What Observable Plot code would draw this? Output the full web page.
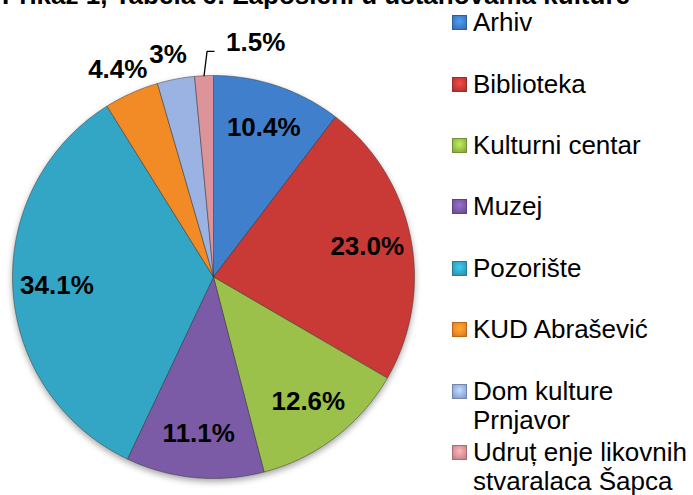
<!DOCTYPE html>
<html><head><meta charset="utf-8">
<script src="https://cdn.jsdelivr.net/npm/d3@7"></script>
<script src="https://cdn.jsdelivr.net/npm/@observablehq/plot@0.6"></script>
<style>
body{margin:0;background:#fff;overflow:hidden;font-family:Arial,"Liberation Sans",sans-serif}
#wrap{position:relative;width:693px;height:495px;overflow:hidden;background:#fff}
#title{position:absolute;top:-18px;right:63px;font:bold 26px Arial,"Liberation Sans",sans-serif;line-height:26px;white-space:nowrap;color:#000}
.item{position:absolute;left:452px;display:flex;align-items:flex-start;font:26px Arial,"Liberation Sans",sans-serif;line-height:29px;color:#000;white-space:nowrap}
.sw{width:15px;height:15px;margin-top:7px;margin-right:6px;flex:none;box-sizing:border-box}
#chart svg .slices{filter:drop-shadow(0px 3px 3px rgba(0,0,0,0.35))}
</style></head><body><div id="wrap"><div id="chart"></div></div>
<script>
const title = "Prikaz 1, Tabela 6: Zaposleni u ustanovama kulture";
const categories = ["Arhiv","Biblioteka","Kulturni centar","Muzej","Pozorište","KUD Abrašević","Dom kulture Prnjavor","Udruț enje likovnih stvaralaca Šapca"];
const legendLines = [["Arhiv"],["Biblioteka"],["Kulturni centar"],["Muzej"],["Pozorište"],["KUD Abrašević"],["Dom kulture","Prnjavor"],["Udruț enje likovnih","stvaralaca Šapca"]];
const values = [10.4, 23.0, 12.6, 11.1, 34.1, 4.4, 3, 1.5];
const labels = ["10.4%","23.0%","12.6%","11.1%","34.1%","4.4%","3%","1.5%"];
const colors = ["#3f7fcc","#c93a36","#9cc14a","#7b5aa6","#33a6c5","#f28a26","#9ab3e2","#dd939a"];

const arcs = d3.pie().sort(null).value(d => d)(values);
const verts = [];
arcs.forEach((a, i) => {
  const name = categories[i];
  verts.push({name, x: 0, y: 0});
  const n = Math.max(2, Math.ceil((a.endAngle - a.startAngle) / 0.01));
  for (let k = 0; k <= n; k++) {
    const t = a.startAngle + (a.endAngle - a.startAngle) * k / n;
    verts.push({name, x: Math.sin(t), y: Math.cos(t)});
  }
  verts.push({name, x: 0, y: 0});
});

const inside = [], outside = [], leader = [], leaderLabel = [];
arcs.forEach((a, i) => {
  const m = (a.startAngle + a.endAngle) / 2;
  if (values[i] >= 10) inside.push({x: 0.78 * Math.sin(m), y: 0.78 * Math.cos(m), text: labels[i]});
  else if (values[i] >= 2.5) outside.push({x: 1.13 * Math.sin(m), y: 1.13 * Math.cos(m), text: labels[i]});
  else {
    const x0 = Math.sin(m), y0 = Math.cos(m);
    leader.push({x: x0, y: y0}, {x: x0 + 0.015, y: 1.12}, {x: x0 + 0.05, y: 1.12});
    leaderLabel.push({x: x0 + 0.05, y: 1.12, text: labels[i]});
  }
});

const font = "Arial, 'Liberation Sans', sans-serif";
const chart = Plot.plot({
  width: 693, height: 495,
  marginLeft: 12, marginRight: 279, marginTop: 75, marginBottom: 17,
  x: {domain: [-1, 1], axis: null},
  y: {domain: [-1, 1], axis: null},
  color: {domain: categories, range: colors},
  style: {background: "transparent", overflow: "visible"},
  marks: [
    Plot.line(verts, {x: "x", y: "y", z: "name", fill: "name", stroke: "#333", strokeOpacity: 0.6, strokeWidth: 0.8, className: "slices"}),
    Plot.text(inside, {x: "x", y: "y", text: "text", fontSize: 26, fontWeight: "bold", fill: "#000", fontFamily: font}),
    Plot.text(outside, {x: "x", y: "y", text: "text", dx: -3, dy: 1, fontSize: 26, fontWeight: "bold", fill: "#000", fontFamily: font}),
    Plot.line(leader, {x: "x", y: "y", stroke: "#000", strokeWidth: 1.3}),
    Plot.text(leaderLabel, {x: "x", y: "y", text: "text", textAnchor: "start", dx: 12, dy: -9, fontSize: 26, fontWeight: "bold", fill: "#000", fontFamily: font})
  ]
});
document.getElementById("chart").appendChild(chart);

const wrap = document.getElementById("wrap");
const t = document.createElement("div");
t.id = "title"; t.textContent = title;
wrap.appendChild(t);
legendLines.forEach((lines, i) => {
  const it = document.createElement("div");
  it.className = "item";
  it.style.top = (23 + i * 61.4 - 14.8) + "px";
  const sw = document.createElement("div");
  sw.className = "sw";
  const c = d3.color(colors[i]);
  sw.style.background = `radial-gradient(circle at 50% 40%, ${c.brighter(0.6)} 0%, ${c} 60%, ${c.darker(0.5)} 100%)`;
  sw.style.border = `1px solid ${c.darker(0.8)}`;
  const tx = document.createElement("div");
  tx.innerHTML = lines.map(s => s.replace(/&/g,"&amp;")).join("<br>");
  it.appendChild(sw); it.appendChild(tx);
  wrap.appendChild(it);
});
</script></body></html>
